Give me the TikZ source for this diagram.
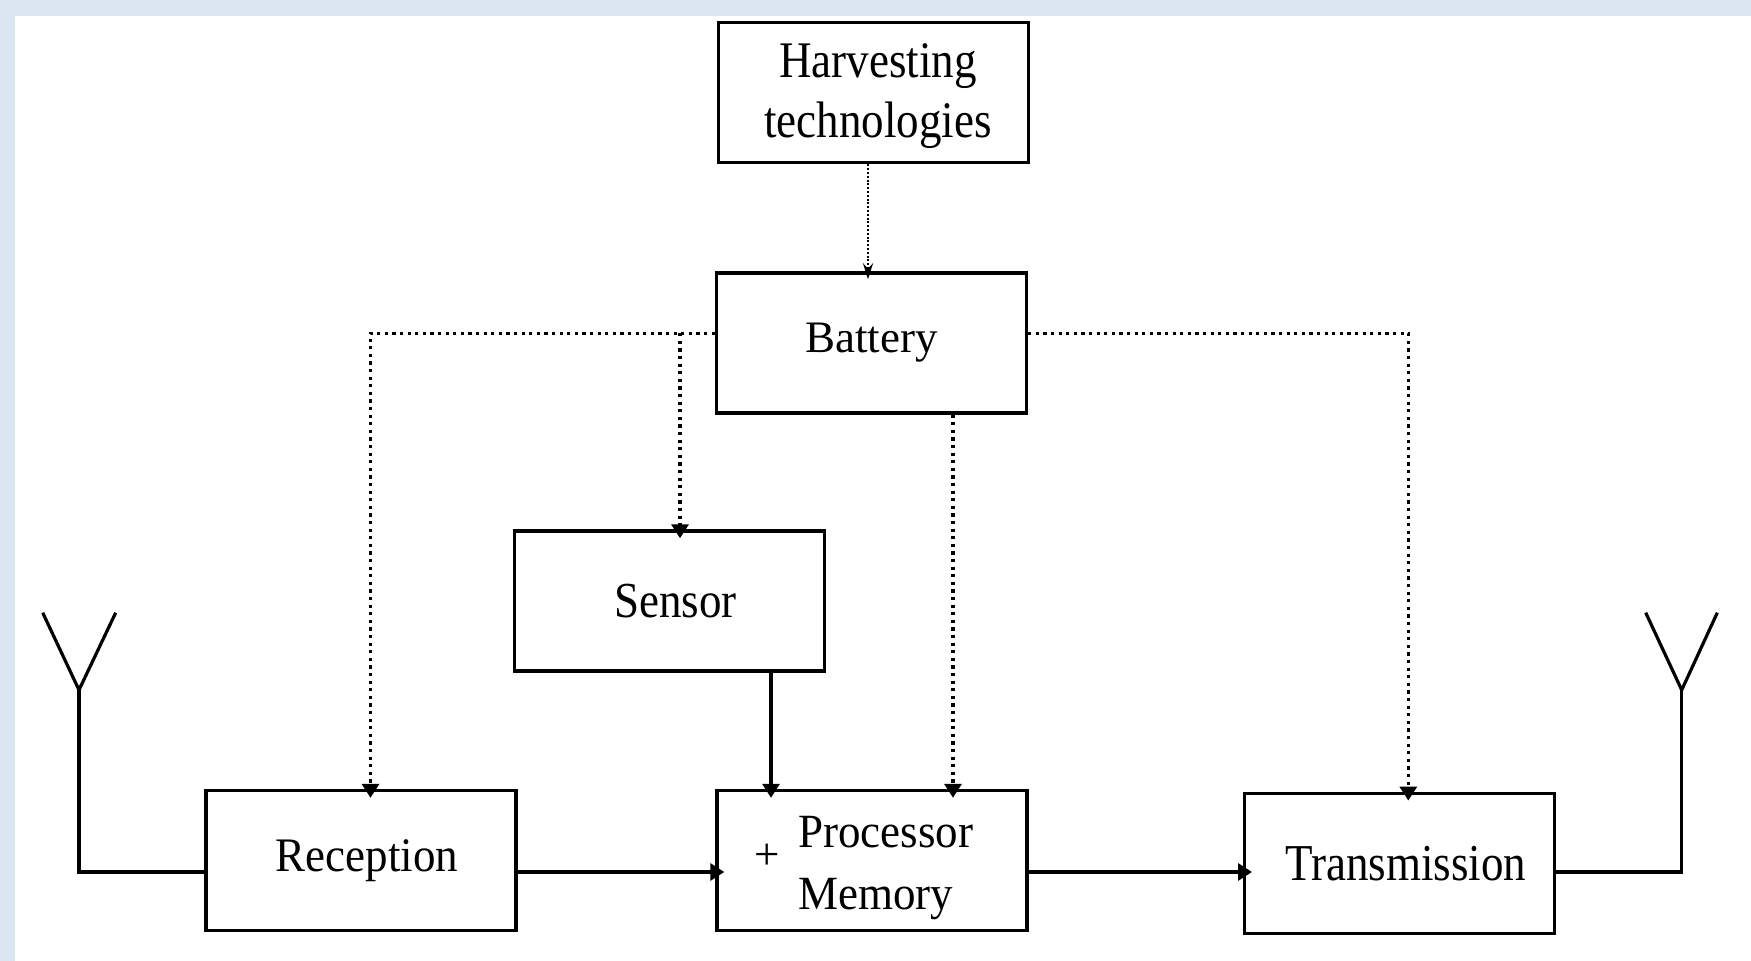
\documentclass[tikz,border=0pt]{standalone}
\usepackage{fontspec}
\setmainfont{Liberation Serif}
\usetikzlibrary{arrows.meta,calc}
\definecolor{bgblue}{HTML}{DCE6F2}
\newcommand{\vs}[2]{\scalebox{1}[#1]{#2}}
\begin{document}
\begin{tikzpicture}[x=0.5pt,y=-0.5pt,
  blockbox/.style={draw, line width=1.7pt, minimum width=155pt, minimum height=70pt, inner sep=0pt, font=\fontsize{22.5}{26}\selectfont},
  lbl/.style={inner sep=0pt, font=\fontsize{22.5}{26}\selectfont},
  solidline/.style={line width=1.6pt},
  antline/.style={line width=1.6pt},
  dotline/.style={line width=1.7pt, dash pattern=on 1.6pt off 2.2pt},
  dotthin/.style={line width=1.1pt, dash pattern=on 1pt off 0.9pt},
  arrowhd/.style={-{Triangle[length=7pt,width=8.5pt]}, shorten >=-4.5pt},
]
\fill[bgblue] (0,0) rectangle (1751,961);
\fill[white] (15,16) rectangle (1751,961);
\useasboundingbox (0,0) rectangle (1751,961);

% boxes
\node[blockbox] (harv) at (873.5,92.8) {};
\node[lbl, anchor=base] (harvtxt) at (878,78) {\vs{1.14}{\begin{tabular}[t]{@{}c@{}}Harvesting\\technologies\end{tabular}}};
\node[blockbox] (batt) at (871.5,343) {\vs{1.0}{Battery}};
\node[blockbox] (sens) at (669.5,601) {\hspace{6pt}\vs{1.12}{Sensor}};
\node[blockbox] (rec) at (361,860.5) {\hspace{6pt}\vs{1.07}{Reception}};
\node[blockbox] (proc) at (872,860.5) {};
\node[lbl] (plus) at (767,857) {+};
\node[lbl, anchor=base west, font=\fontsize{22.5}{29.2}\selectfont] (proctxt) at (797.7,848) {\vs{1.06}{\begin{tabular}[t]{@{}l@{}}Processor\\Memory\end{tabular}}};
\node[blockbox] (trans) at (1399.7,863.3) {\hspace{6pt}\vs{1.15}{Transmission}};

% helper coordinates
\coordinate (bus) at (0,872);
\coordinate (yb) at (0,333.3);
\coordinate (xh) at (868,0);
\coordinate (xr) at (370.5,0);
\coordinate (xs) at (680,0);
\coordinate (xp) at (953,0);
\coordinate (xq) at (771,0);
\coordinate (xt) at (1408.3,0);
\coordinate (antL) at (79,690);
\coordinate (antR) at (1681.7,690);

% power connectors
\draw[dotthin, -{Stealth[length=8pt,width=5pt]}, shorten >=-4pt] (harv.south -| xh) -- (batt.north -| xh);
\draw[dotline, arrowhd] (batt.west |- yb) -| (rec.north -| xr);
\draw[dotline, arrowhd] (yb -| xs) -- (sens.north -| xs);
\draw[dotline, arrowhd] (batt.east |- yb) -| (trans.north -| xt);
\draw[dotline, arrowhd] (batt.south -| xp) -- (proc.north -| xp);

% signal connectors
\draw[solidline, arrowhd] (sens.south -| xq) -- (proc.north -| xq);
\draw[solidline, arrowhd] (rec.east |- bus) -- (proc.west |- bus);
\draw[solidline, arrowhd] (proc.east |- bus) -- (trans.west |- bus);

% antennas
\draw[antline] (antL) -- (antL |- bus) -- (rec.west |- bus);
\draw[antline] (antL) -- ++(-36.3,-77.3);
\draw[antline] (antL) -- ++(36.7,-77.3);
\draw[antline] (antR) -- (antR |- bus) -- (trans.east |- bus);
\draw[antline] (antR) -- ++(-36,-77.3);
\draw[antline] (antR) -- ++(35.6,-77.3);
\end{tikzpicture}
\end{document}
